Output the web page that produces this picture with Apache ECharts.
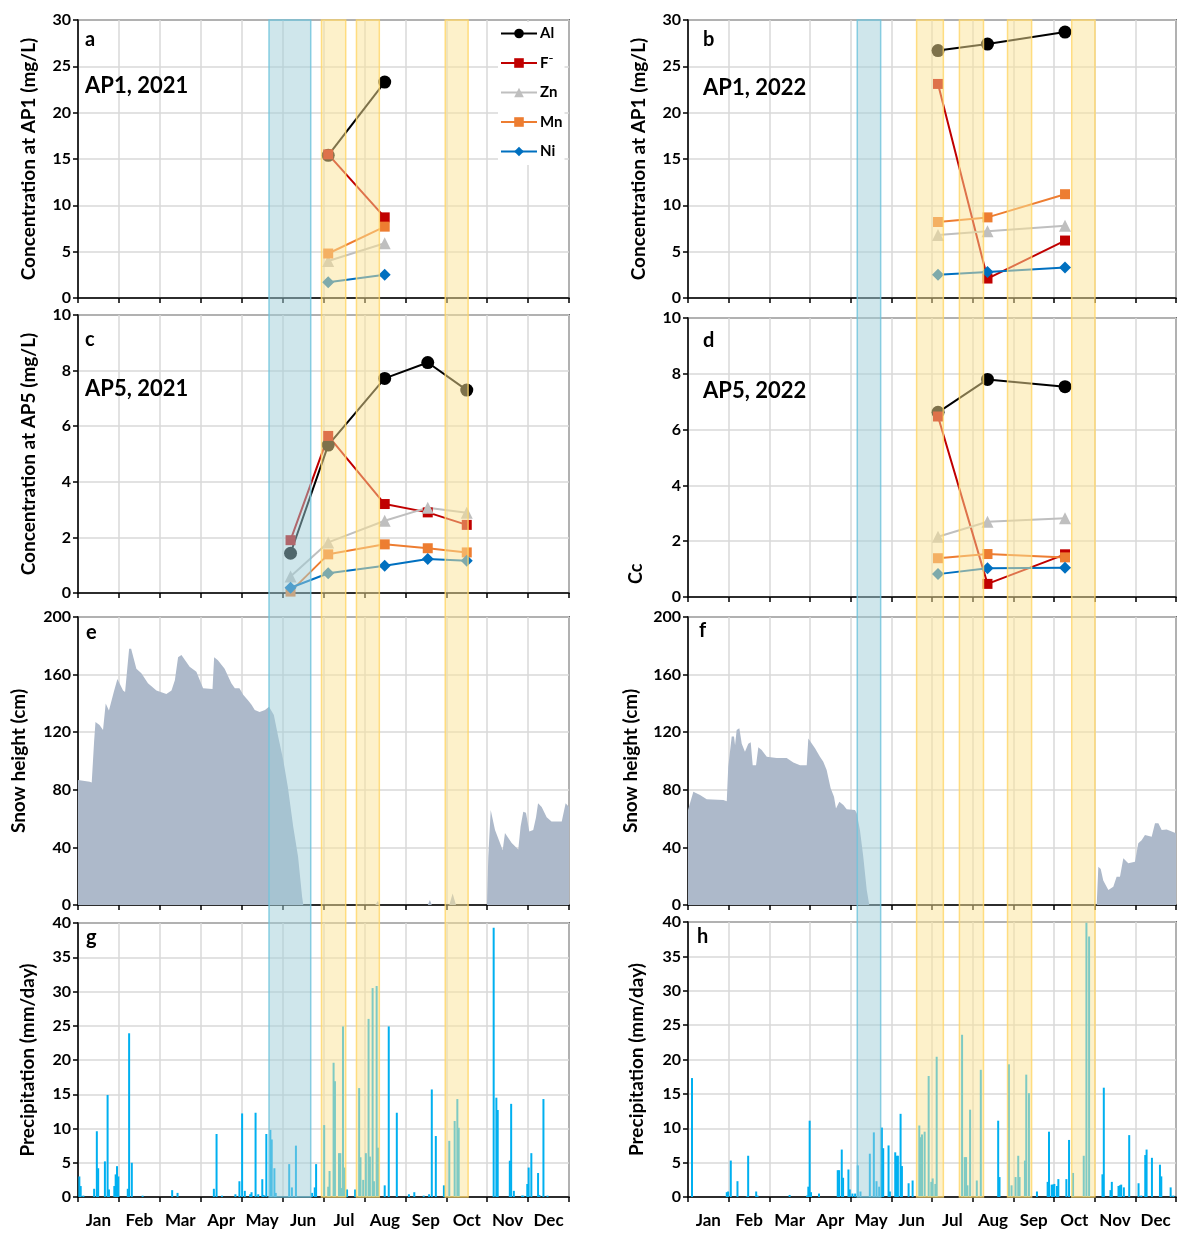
<!DOCTYPE html>
<html>
<head>
<meta charset="utf-8">
<script src="https://cdn.jsdelivr.net/npm/echarts@6/dist/echarts.min.js"></script>
<style>
  html, body { margin: 0; background: #fff; }
  #main { width: 1186px; height: 1233px; }
</style>
</head>
<body>
<div id="main"></div>
<script>
// 月份标签
const months = ["Jan", "Feb", "Mar", "Apr", "May", "Jun", "Jul", "Aug", "Sep", "Oct", "Nov", "Dec"];

// 采样日期 (day of year)
const days21a = [186, 228];
const days21c = [158, 186, 228, 260, 289];
const days22 = [187, 224, 282];

// AP1, 2021
const al21a = [15.4, 23.3];
const f21a = [15.5, 8.7];
const zn21a = [4.0, 5.9];
const mn21a = [4.8, 7.7];
const ni21a = [1.7, 2.5];

// AP5, 2021
const al21c = [1.43, 5.32, 7.72, 8.29, 7.3];
const f21c = [1.9, 5.65, 3.2, 2.9, 2.45];
const zn21c = [0.59, 1.82, 2.6, 3.07, 2.89];
const mn21c = [0.05, 1.39, 1.75, 1.61, 1.46];
const ni21c = [0.19, 0.71, 0.98, 1.22, 1.16];

// AP1, 2022
const al22b = [26.7, 27.4, 28.7];
const f22b = [23.1, 2.1, 6.2];
const zn22b = [6.8, 7.2, 7.8];
const mn22b = [8.2, 8.7, 11.2];
const ni22b = [2.5, 2.8, 3.3];

// AP5, 2022
const al22d = [6.62, 7.8, 7.54];
const f22d = [6.47, 0.47, 1.53];
const zn22d = [2.16, 2.7, 2.82];
const mn22d = [1.39, 1.54, 1.42];
const ni22d = [0.82, 1.03, 1.05];

// 积雪高度 [day, cm]
const snow2021 = [[0,86.8],[8.7,85.6],[10.2,85],[12,114],[13,127],[16,125],[18.6,121.5],[19.5,121],[20.6,140],[23,135],
  [26.6,148],[29.3,157],[33.5,149],[35,148],[38,178],[39.5,178],[43.4,164],[47.1,161],[52,154],[58.3,149],[65.7,146.5],
  [69.5,149],[72,156],[74.4,172],[76.9,173.6],[83,165.5],[88,162],[93,150.5],[100,150],[101.2,172],[104,170],[109,164],
  [114,154],[116.6,150.5],[120,150.5],[122.8,146],[126.5,142],[129,139],[131.4,135.4],[135,134],[139,135.4],[142,137.7],
  [145.6,132],[148.8,117],[152.5,101],[156,82],[160,54.4],[163.6,33.5],[166.6,5.8],[167.5,0],
  [221,0],[223,3],[224,0],[260,0],[261.6,3.5],[263,0],[276,0],[278.5,8],[281,0],
  [304,0],[305,33.5],[306.8,66],[308,66],[310,52],[313.7,43],[315.7,38],[317.4,50],[318.6,49],[322.4,43],[327.3,38.6],
  [329,54.4],[331,64.8],[333,64],[335.5,51],[338.4,52],[340.5,61],[342,70.6],[344.7,68],[348.4,61],[352,58],[359.6,58],
  [362.5,70.6],[365,68]];
const snow2022 = [[0,66],[4,78.7],[5.2,80],[9,76.4],[14,73.4],[26.4,73],[29,72],[30.1,96],[31.4,97],[32.7,117],[34.4,117],
  [35.2,111],[36.4,121.5],[38.4,122.7],[40.2,112],[42.6,106.5],[45.1,112],[46.9,113],[48.4,97],[50.9,97],[52.6,109.5],
  [55.1,107.6],[58.9,103],[66.3,102],[73.8,102],[78.8,99],[83.8,97],[88.8,97],[90,115.7],[91.2,116.5],[95,108.8],[98.7,103],
  [101.2,99.5],[103.7,93.75],[106.7,81],[109.2,75.2],[110.7,67],[113.2,71.7],[116.2,69.4],[118.7,66.5],[124.9,66],
  [126.2,63.7],[128.6,52],[131.1,33.5],[133.7,10.4],[135.6,0],
  [305.7,0],[306.9,26.6],[308.7,25],[310.6,17],[314.4,10.4],[318.1,12.7],[320.6,19.7],[323.1,19.7],[325.6,32.4],[329.3,29],
  [334.3,30],[336.8,42.8],[339.3,45],[341.8,48.6],[346.8,47.4],[349.3,56.7],[351.8,56.7],[354.3,52],[358,52.5],[361.8,51],
  [365,49.8]];

// 降水 [day, mm/day]
const rain2021 = [[1,3.0],[2,1.6],[4,0.2],[12,1.2],[14,9.6],[15,4.2],[20,5.2],[22,14.9],[23,1.1],[27,1.6],[28,3.3],[29,4.5],
  [30,3.0],[37,1.2],[38,23.9],[40,5.0],[48,0.2],[70,1.0],[74,0.6],[101,1.2],[103,9.2],[107,0.2],[117,0.4],[120,2.3],[122,12.2],
  [124,0.9],[128,0.4],[129,0.7],[132,12.3],[134,0.4],[137,2.6],[138,0.3],[140,9.2],[143,9.8],[144,8.4],[146,4.2],[147,0.6],
  [157,4.8],[159,1.4],[162,7.5],[174,0.6],[176,1.4],[177,4.8],[183,10.5],[186,1.5],[187,3.8],[190,19.6],[191,16.9],[194,6.4],
  [195,6.4],[196,1.3],[197,24.9],[198,4.3],[200,1.1],[206,1.1],[209,15.9],[210,5.8],[212,2.5],[214,6.4],[216,26.0],[217,5.9],
  [219,30.5],[220,2.3],[222,30.8],[223,7.2],[228,1.7],[231,24.9],[237,12.3],[246,0.4],[250,0.7],[257,0.2],[261,0.4],[263,15.7],
  [266,8.9],[272,1.7],[276,8.2],[280,11.1],[282,14.3],[283,10.1],[309,39.3],[311,14.5],[312,12.7],[321,5.3],[322,13.6],[324,0.9],
  [330,0.2],[331,0.2],[334,1.9],[335,4.3],[337,6.4],[342,3.5],[343,0.3],[346,14.3],[349,0.2]];
const rain2022 = [[3,17.3],[29,0.7],[30,0.8],[32,5.3],[37,2.3],[44,0.1],[45,6.0],[51,0.8],[52,0.2],[76,0.3],[89,0.2],[90,1.5],
  [91,11.1],[92,0.7],[98,0.5],[112,3.9],[113,3.9],[115,6.9],[116,2.8],[120,4.0],[121,1.1],[123,0.5],[125,0.5],[127,4.6],[129,0.8],
  [136,6.3],[139,9.4],[141,2.3],[143,1.5],[145,10.1],[146,7.1],[150,7.5],[151,0.8],[155,6.5],[156,6.0],[157,6.0],[159,12.1],
  [160,4.5],[165,2.0],[168,2.4],[173,10.4],[174,8.7],[175,9.1],[177,9.5],[180,17.6],[182,2.2],[183,2.7],[185,1.9],[186,20.4],
  [205,23.6],[207,5.8],[208,5.8],[209,1.7],[211,12.7],[216,2.4],[219,18.5],[232,11.1],[233,2.9],[240,19.3],[242,1.7],[245,2.9],
  [247,6.0],[248,2.9],[252,5.3],[253,17.8],[255,15.1],[261,0.8],[269,2.2],[270,9.5],[272,1.8],[273,1.8],[274,1.9],[276,1.6],
  [277,2.6],[283,2.6],[285,8.3],[288,3.5],[296,6.0],[298,39.9],[300,37.9],[310,3.3],[311,15.9],[316,1.0],[317,2.2],[322,1.6],
  [323,1.7],[324,1.8],[326,1.4],[330,9.0],[337,2.0],[339,0.2],[342,6.1],[343,6.9],[347,5.7],[353,4.7],[354,3.0],[361,1.4],[363,0.2]];

// 阴影区间 [start, end, kind] kind 0 = 蓝, 1 = 黄
const bands2021 = [[142, 173, 0], [181, 199, 1], [207, 224, 1], [273, 290, 1]];
const bands2022 = [[126.6, 144.1, 0], [171, 191, 1], [203, 221, 1], [239, 257, 1], [287, 304.4, 1]];

const FONT = "Lato";
const elements = [
  { name: "Al", color: "#000000", symbol: "circle", size: 13 },
  { name: "F⁻", color: "#c00000", symbol: "rect", size: 10 },
  { name: "Zn", color: "#bfbfbf", symbol: "triangle", size: 12 },
  { name: "Mn", color: "#ed7d31", symbol: "rect", size: 10 },
  { name: "Ni", color: "#0070c0", symbol: "diamond", size: 12 },
];

//  面板布局: a c e g | b d f h
const L = { left: 78, width: 491 };
const R = { left: 688, width: 488 };
const grids = [
  { ...L, top: 20, height: 278 },
  { ...L, top: 315, height: 278 },
  { ...L, top: 617, height: 288 },
  { ...L, top: 923, height: 274 },
  { ...R, top: 20, height: 278 },
  { ...R, top: 318, height: 279 },
  { ...R, top: 617, height: 288 },
  { ...R, top: 922, height: 275 },
].map((g) => ({ ...g, show: true, backgroundColor: "#fff", borderColor: "#000", borderWidth: 1.5 }));
// 阴影用的两个透明网格
grids.push({ ...L, top: 20, height: 1177 });
grids.push({ ...R, top: 20, height: 1177 });

const yRanges = [
  { max: 30, interval: 5, name: "Concentration at AP1 (mg/L)", gap: 40 },
  { max: 10, interval: 2, name: "Concentration at AP5 (mg/L)", gap: 40 },
  { max: 200, interval: 40, name: "Snow height (cm)", gap: 50 },
  { max: 40, interval: 5, name: "Precipitation (mm/day)", gap: 41 },
  { max: 30, interval: 5, name: "Concentration at AP1 (mg/L)", gap: 40 },
  { max: 10, interval: 2, name: "", gap: 40 },
  { max: 200, interval: 40, name: "Snow height (cm)", gap: 48 },
  { max: 40, interval: 5, name: "Precipitation (mm/day)", gap: 42 },
];

const gridLine = { show: true, lineStyle: { color: "#d9d9d9", width: 1.5 } };
const blackLine = { show: true, lineStyle: { color: "#000", width: 1.5 } };

const xAxis = [];
for (let i = 0; i < 8; i++) {
  xAxis.push({
    type: "value", gridIndex: i, min: 0, max: 365, interval: 365 / 12,
    axisLine: blackLine,
    axisTick: { show: true, length: 5, lineStyle: { color: "#000", width: 1.5 } },
    axisLabel: { show: false },
    splitLine: gridLine,
  });
}
xAxis.push({ type: "value", gridIndex: 8, min: 0, max: 365, show: false });
xAxis.push({ type: "value", gridIndex: 9, min: 0, max: 365, show: false });
[3, 7].forEach((gi) => {
  xAxis.push({
    type: "category", gridIndex: gi, data: months, position: "bottom",
    axisLine: { show: false }, axisTick: { show: false }, splitLine: { show: false },
    axisLabel: { interval: 0, margin: 15, color: "#000", fontFamily: FONT, fontWeight: "bold", fontSize: 17 },
  });
});

const yAxis = yRanges.map((r, i) => ({
  type: "value", gridIndex: i, min: 0, max: r.max, interval: r.interval,
  name: r.name, nameLocation: "middle", nameGap: r.gap,
  nameTextStyle: { color: "#000", fontFamily: FONT, fontWeight: "bold", fontSize: 19 },
  axisLine: blackLine,
  axisTick: { show: true, length: 5, lineStyle: { color: "#000", width: 1.5 } },
  axisLabel: { margin: 7, color: "#000", fontFamily: FONT, fontWeight: "bold", fontSize: 16 },
  splitLine: gridLine,
}));
yAxis.push({ type: "value", gridIndex: 8, min: 0, max: 1, show: false });
yAxis.push({ type: "value", gridIndex: 9, min: 0, max: 1, show: false });

const series = [];
// 浓度折线
const concPanels = [
  { idx: 0, days: days21a, vals: [al21a, f21a, zn21a, mn21a, ni21a] },
  { idx: 1, days: days21c, vals: [al21c, f21c, zn21c, mn21c, ni21c] },
  { idx: 4, days: days22, vals: [al22b, f22b, zn22b, mn22b, ni22b] },
  { idx: 5, days: days22, vals: [al22d, f22d, zn22d, mn22d, ni22d] },
];
concPanels.forEach((p) => {
  elements.forEach((el, k) => {
    series.push({
      type: "line", name: el.name, xAxisIndex: p.idx, yAxisIndex: p.idx, z: 2,
      data: p.days.map((d, j) => [d, p.vals[k][j]]),
      symbol: el.symbol, symbolSize: el.size,
      itemStyle: { color: el.color }, lineStyle: { color: el.color, width: 2 },
    });
  });
});
// 积雪
[[2, snow2021], [6, snow2022]].forEach(([i, d]) => {
  series.push({
    type: "line", xAxisIndex: i, yAxisIndex: i, data: d, symbol: "none", z: 2,
    lineStyle: { width: 0 }, itemStyle: { color: "#adb9ca" },
    areaStyle: { color: "#adb9ca", opacity: 1 },
  });
});
// 降水
[[3, rain2021], [7, rain2022]].forEach(([i, d]) => {
  series.push({
    type: "bar", xAxisIndex: i, yAxisIndex: i, data: d, barWidth: 2, z: 2,
    itemStyle: { color: "#00b0f0" },
  });
});
// 阴影 (画在最上层, 半透明)
[[8, bands2021], [9, bands2022]].forEach(([i, d]) => {
  series.push({
    type: "custom", xAxisIndex: i, yAxisIndex: i, data: d, z: 10, silent: true,
    renderItem: function (params, api) {
      const p0 = api.coord([api.value(0), 1]);
      const p1 = api.coord([api.value(1), 0]);
      const blue = api.value(2) === 0;
      return {
        type: "rect",
        shape: { x: p0[0], y: p0[1], width: p1[0] - p0[0], height: p1[1] - p0[1] },
        style: {
          fill: blue ? "rgba(160,205,215,0.5)" : "rgba(252,228,150,0.5)",
          stroke: blue ? "rgba(110,195,220,0.8)" : "rgba(255,214,102,0.8)",
          lineWidth: 1.5,
        },
      };
    },
  });
});

const txt = (x, y, t, size) => ({
  type: "text", left: x, top: y, z: 20,
  style: { text: t, fill: "#000", font: "bold " + size + "px " + FONT },
});
const graphic = [
  txt(85, 30, "a", 20), txt(85, 75, "AP1, 2021", 22),
  txt(703, 30, "b", 20), txt(703, 77, "AP1, 2022", 22),
  txt(85, 330, "c", 20), txt(85, 378, "AP5, 2021", 22),
  txt(703, 331, "d", 20), txt(703, 380, "AP5, 2022", 22),
  txt(86, 623, "e", 20), txt(699, 621, "f", 20),
  txt(86, 928, "g", 20), txt(697, 927, "h", 20),
  {
    type: "text", x: 627, y: 584, rotation: Math.PI / 2, z: 20,
    style: { text: "Cc", fill: "#000", font: "bold 18px " + FONT },
  },
];

const chart = echarts.init(document.getElementById("main"));
chart.setOption({
  animation: false,
  backgroundColor: "#fff",
  legend: {
    orient: "vertical", left: 498, top: 22, z: 30,
    backgroundColor: "#fff", padding: [4, 2, 6, 2],
    itemWidth: 36, itemHeight: 12, itemGap: 14.5,
    data: elements.map((e) => e.name),
    textStyle: { color: "#000", fontFamily: FONT, fontWeight: "bold", fontSize: 15, padding: [0, 0, 0, -2] },
  },
  grid: grids,
  xAxis: xAxis,
  yAxis: yAxis,
  series: series,
  graphic: graphic,
});
</script>
</body>
</html>
